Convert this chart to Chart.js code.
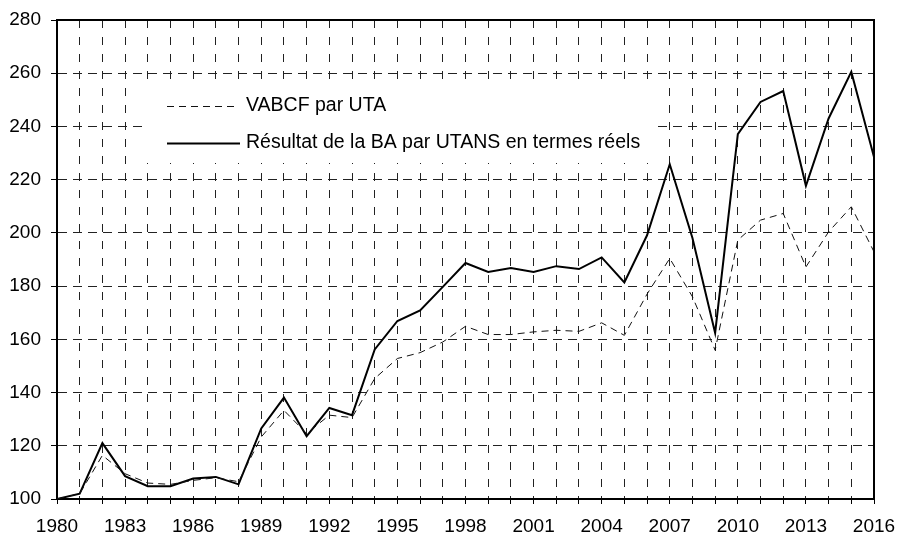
<!DOCTYPE html>
<html>
<head>
<meta charset="utf-8">
<script src="https://cdn.jsdelivr.net/npm/chart.js@4"></script>
<style>
  html, body { margin: 0; padding: 0; background: #ffffff; }
  #wrap { width: 897px; height: 534px; position: relative; }
</style>
</head>
<body>
<div id="wrap"><canvas id="c" width="897" height="534"></canvas></div>
<script>
const years = [1980, 1981, 1982, 1983, 1984, 1985, 1986, 1987, 1988, 1989,
               1990, 1991, 1992, 1993, 1994, 1995, 1996, 1997, 1998, 1999,
               2000, 2001, 2002, 2003, 2004, 2005, 2006, 2007, 2008, 2009,
               2010, 2011, 2012, 2013, 2014, 2015, 2016];
const vabcfParUta = [100, 102, 116.4, 109.5, 106, 105.5, 107, 108, 106.5, 123.3,
                     133.3, 124.6, 131.5, 130.6, 145.3, 152.8, 155, 159, 164.9, 161.8,
                     161.8, 162.8, 163.4, 163, 166.2, 161.5, 177, 190.4, 176, 155.9,
                     197.3, 204.8, 207.3, 187.2, 200.4, 209.8, 192.9];
const resultatBa = [100, 102, 121, 108.6, 104.8, 104.8, 107.7, 108.3, 105.5, 126.5,
                    138.1, 123.6, 134.2, 131.5, 156.2, 166.9, 170.9, 179.7, 188.7, 185.3,
                    186.8, 185.3, 187.5, 186.4, 190.8, 181.4, 199.1, 225.8, 198.1, 162.4,
                    237.1, 249.2, 253.3, 217.7, 243, 260.5, 228.5];
const seriesLabels = ["VABCF par UTA", "Résultat de la BA par UTANS en termes réels"];
const yMin = 100, yMax = 280, yStep = 20;
const xLabelEvery = 3;

const FONT = '"Liberation Sans", Arial, Helvetica, sans-serif';

const legendBox = {
  id: 'legendBox',
  beforeDatasetsDraw(chart) {
    const ctx = chart.ctx;
    ctx.save();
    ctx.fillStyle = '#ffffff';
    ctx.fillRect(145, 84, 513, 79);
    const rows = [106, 143];
    chart.data.datasets.forEach((ds, i) => {
      const y = rows[i];
      ctx.beginPath();
      ctx.strokeStyle = ds.borderColor;
      ctx.lineWidth = ds.borderWidth;
      ctx.setLineDash(ds.borderDash || []);
      ctx.moveTo(167, y + 0.5);
      ctx.lineTo(i === 0 ? 236 : 240, y + 0.5);
      ctx.stroke();
      ctx.setLineDash([]);
      ctx.fillStyle = '#000';
      ctx.font = '19.5px ' + FONT;
      ctx.textBaseline = 'middle';
      ctx.textAlign = 'left';
      ctx.fillText(ds.label, 246, y);
    });
    ctx.restore();
  }
};

const frame = {
  id: 'frame',
  afterDatasetsDraw(chart) {
    const a = chart.chartArea, ctx = chart.ctx;
    ctx.save();
    ctx.strokeStyle = '#000';
    ctx.lineWidth = 2;
    ctx.beginPath();
    ctx.moveTo(a.left, a.top);
    ctx.lineTo(a.right, a.top);
    ctx.lineTo(a.right, a.bottom);
    ctx.stroke();
    ctx.restore();
  }
};

new Chart(document.getElementById('c'), {
  type: 'line',
  data: {
    datasets: [
      {
        label: seriesLabels[0],
        data: years.map((y, i) => ({ x: y, y: vabcfParUta[i] })),
        borderColor: '#111',
        borderWidth: 1,
        borderDash: [7, 5],
        pointRadius: 0,
        tension: 0,
        fill: false
      },
      {
        label: seriesLabels[1],
        data: years.map((y, i) => ({ x: y, y: resultatBa[i] })),
        borderColor: '#000',
        borderWidth: 2,
        pointRadius: 0,
        tension: 0,
        fill: false
      }
    ]
  },
  options: {
    responsive: false,
    animation: false,
    devicePixelRatio: 1,
    layout: { padding: { left: 0, right: 23, top: 20, bottom: 0 } },
    plugins: { legend: { display: false }, tooltip: { enabled: false } },
    scales: {
      x: {
        type: 'linear',
        min: years[0],
        max: years[years.length - 1],
        afterFit(s) { s.height = 35; s.paddingLeft = 0; s.paddingRight = 0; },
        ticks: {
          stepSize: 1,
          autoSkip: false,
          maxRotation: 0,
          padding: 11,
          color: '#000',
          font: { family: FONT, size: 19 },
          callback: (v) => ((v - years[0]) % xLabelEvery === 0 ? String(v) : '')
        },
        grid: {
          color: '#222',
          lineWidth: 1,
          drawTicks: true,
          tickLength: 5,
          tickColor: '#000',
          tickWidth: 1,
          tickBorderDash: []
        },
        border: { display: true, color: '#000', width: 2, dash: [8, 9] }
      },
      y: {
        min: yMin,
        max: yMax,
        afterFit(s) { s.width = 57; s.paddingTop = 0; s.paddingBottom = 0; },
        ticks: {
          stepSize: yStep,
          padding: 10,
          color: '#000',
          font: { family: FONT, size: 19 }
        },
        grid: {
          color: '#222',
          lineWidth: 1,
          drawTicks: true,
          tickLength: 6,
          tickColor: '#000',
          tickWidth: 1,
          tickBorderDash: []
        },
        border: { display: true, color: '#000', width: 2, dash: [9, 6] }
      }
    }
  },
  plugins: [legendBox, frame]
});
</script>
</body>
</html>
